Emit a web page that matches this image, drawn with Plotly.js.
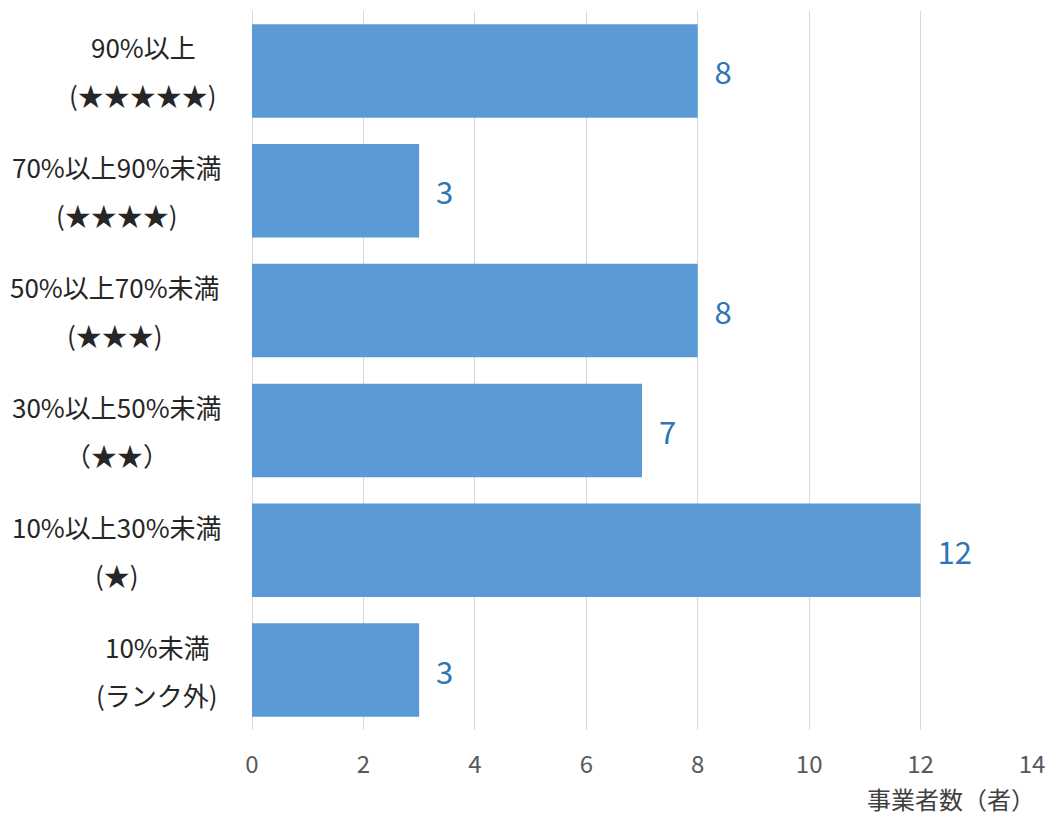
<!DOCTYPE html>
<html>
<head>
<meta charset="utf-8">
<script src="https://cdn.plot.ly/plotly-3.0.1.min.js"></script>
<style>html,body{margin:0;padding:0;background:#fff;}#chart{width:1052px;height:818px;}</style>
</head>
<body>
<div id="chart"></div>
<script>
// Data
const categories = ["90%以上", "70%以上90%未満", "50%以上70%未満", "30%以上50%未満", "10%以上30%未満", "10%未満"];
const labelLine1 = ["90%以上", "70%以上90%未満", "50%以上70%未満", "30%以上50%未満", "10%以上30%未満", "10%未満"];
const labelLine2 = ["(★★★★★)", "(★★★★)", "(★★★)", "（★★）", "(★)", "(ランク外)"];
const counts = [8, 3, 8, 7, 12, 3];
const xTickVals = [0, 2, 4, 6, 8, 10, 12, 14];
const xAxisTitle = "事業者数（者）";

// Layout helpers (label block centers in px from left edge)
const labelCenterPx = [143, 117, 115, 117, 117, 157];
const W = 1052, H = 818;
const margin = {l: 252, r: 20, t: 11, b: 88};
const plotW = W - margin.l - margin.r;
const plotH = H - margin.t - margin.b;
const FONT = '"Noto Sans CJK JP", "Noto Sans", sans-serif';

const annotations = [];
categories.forEach((c, i) => {
  const xp = (labelCenterPx[i] - margin.l) / plotW;
  annotations.push({
    x: xp, xref: 'paper', y: c, yref: 'y', yshift: 24,
    text: labelLine1[i], showarrow: false, xanchor: 'center', yanchor: 'middle',
    font: {family: FONT, size: 26, color: '#262626'}
  });
  annotations.push({
    x: xp, xref: 'paper', y: c, yref: 'y', yshift: -24,
    text: labelLine2[i], showarrow: false, xanchor: 'center', yanchor: 'middle',
    font: {family: FONT, size: 26, color: '#262626'}
  });
});
annotations.push({
  x: 1.005, xref: 'paper', xanchor: 'right',
  y: -(817 - (H - margin.b)) / plotH, yref: 'paper', yanchor: 'bottom',
  text: xAxisTitle, showarrow: false, borderpad: 0,
  font: {family: FONT, size: 24, color: '#404040'}
});

const trace = {
  type: 'bar',
  orientation: 'h',
  x: counts,
  y: categories,
  marker: {color: '#5B9BD5', line: {width: 0}},
  text: counts.map(String),
  texttemplate: '  %{x}',
  textposition: 'outside',
  textfont: {family: FONT, size: 31, color: '#2E75B6'},
  cliponaxis: false,
  hoverinfo: 'none'
};

const layout = {
  width: W, height: H,
  margin: margin,
  paper_bgcolor: '#ffffff',
  plot_bgcolor: '#ffffff',
  showlegend: false,
  bargap: 0.22,
  font: {family: FONT, color: '#404040'},
  xaxis: {
    range: [0, 14],
    tickvals: xTickVals,
    ticktext: xTickVals.map(String),
    showgrid: true,
    gridcolor: '#d9d9d9',
    gridwidth: 1,
    zeroline: true,
    zerolinecolor: '#d9d9d9',
    zerolinewidth: 1,
    showline: false,
    ticks: '',
    ticklabelstandoff: 18,
    tickfont: {family: FONT, size: 24, color: '#595959'},
    fixedrange: true
  },
  yaxis: {
    type: 'category',
    categoryorder: 'array',
    categoryarray: categories,
    autorange: 'reversed',
    showticklabels: false,
    showgrid: false,
    zeroline: false,
    showline: false,
    ticks: '',
    fixedrange: true
  },
  annotations: annotations
};

Plotly.newPlot('chart', [trace], layout, {staticPlot: true, displayModeBar: false});
</script>
</body>
</html>
